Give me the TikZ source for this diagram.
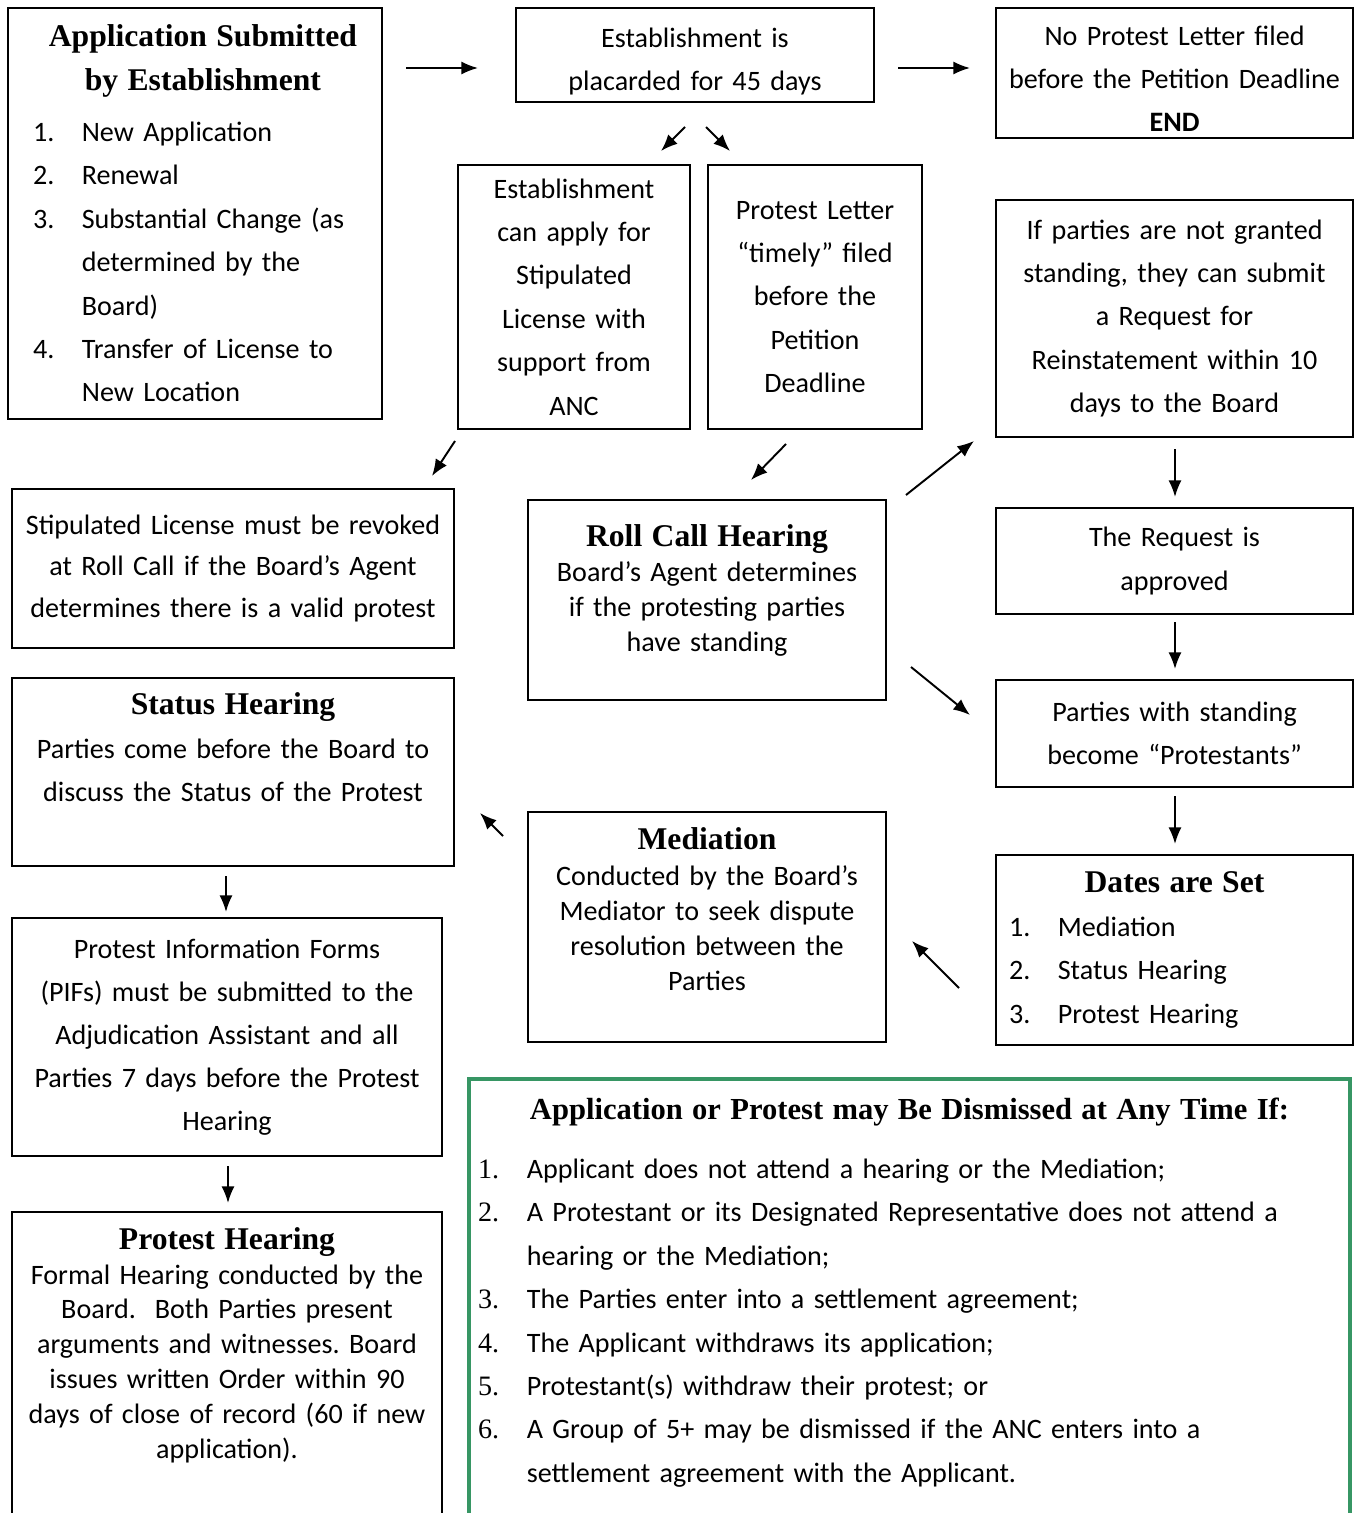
\documentclass[tikz,border=0pt]{standalone}
\usepackage{fontspec}
\setmainfont{Carlito}
\newfontfamily\serifhd{Liberation Serif}
\usetikzlibrary{arrows.meta}
\frenchspacing

\definecolor{boxgreen}{RGB}{55,150,100}
\newcommand{\hd}[1]{{\serifhd\bfseries\fontsize{18}{20}\selectfont #1}}
\newlength{\numw}
\setlength{\numw}{27.8pt}
% numbered line and its continuation, left aligned inside a centred node
\newcommand{\itm}[2]{\makebox[\hsize][l]{\makebox[\numw][l]{#1}#2}}
\newcommand{\itc}[1]{\makebox[\hsize][l]{\hspace*{\numw}#1}}

\tikzset{
  bx/.style n args={3}{draw, line width=1.6pt, inner sep=0pt, align=center,
    minimum width=#1*0.02cm, minimum height=#2*0.02cm, text width=#3*0.02cm,
    font=\fontsize{16}{24.7}\selectfont},
  tight/.style={font=\fontsize{16}{19.8}\selectfont},
  arr/.style={->, line width=1.1pt}
}

\begin{document}
\begin{tikzpicture}[x=0.02cm, y=-0.02cm, >={Latex[length=9.5pt,width=7.5pt]}]
\useasboundingbox (0,0) rectangle (1354,1513);
\clip (0,0) rectangle (1354,1513);

% first row
\node[bx={374}{411}{324}] (app) at (195,213.5) {\hd{\hspace*{9pt}Application Submitted}\\\hd{\hspace*{9pt}by Establishment}\\[4.5pt]
  \itm{1.}{New Application}\\\itm{2.}{Renewal}\\
  \itm{3.}{Substantial Change (as}\\\itc{determined by the}\\\itc{Board)}\\
  \itm{4.}{Transfer of License to}\\\itc{New Location}};
\node[bx={358}{94}{350}] (plac) at (695,55) {\rule{0pt}{18.8pt}Establishment is\\placarded for 45 days};
\node[bx={357}{130}{350}] (noprot) at (1174.5,73) {\rule{0pt}{17.7pt}No Protest Letter filed\\before the Petition Deadline\\\textbf{END}};

% second row
\node[bx={232}{264}{226}] (stipapp) at (574,297) {Establishment\\can apply for\\Stipulated\\License with\\support from\\ANC};
\node[bx={214}{264}{208}] (letter) at (815,297) {Protest Letter\\“timely” filed\\before the\\Petition\\Deadline};
\node[bx={357}{237}{350}] (reinst) at (1174.5,318.5) {If parties are not granted\\standing, they can submit\\a Request for\\Reinstatement within 10\\days to the Board};

% middle
\node[bx={442}{159}{436}, font=\fontsize{16}{23.5}\selectfont] (revoke) at (233,568.5) {Stipulated License must be revoked\\at Roll Call if the Board’s Agent\\determines there is a valid protest};
\node[bx={358}{200}{350}, tight] (rollcall) at (707,600) {\hd{Roll Call Hearing}\\Board’s Agent determines\\if the protesting parties\\have standing\\[-6pt]\mbox{}};
\node[bx={357}{106}{350}] (approved) at (1174.5,561) {The Request is\\approved};
\node[bx={357}{107}{350}] (protestants) at (1174.5,733.5) {Parties with standing\\become “Protestants”};
\node[bx={442}{188}{436}] (status) at (233,772) {\hd{Status Hearing}\\Parties come before the Board to\\discuss the Status of the Protest\\[3.7pt]\mbox{}};
\node[bx={358}{230}{350}, font=\fontsize{16}{20.1}\selectfont] (mediation) at (707,927) {\hd{Mediation}\\Conducted by the Board’s\\Mediator to seek dispute\\resolution between the\\Parties\\\mbox{}};
\node[bx={357}{190}{331}] (dates) at (1174.5,950) {\hd{Dates are Set}\\
  \itm{1.}{Mediation}\\\itm{2.}{Status Hearing}\\\itm{3.}{Protest Hearing}};

% bottom
\node[bx={430}{238}{424}, font=\fontsize{16}{24.5}\selectfont] (pifs) at (227,1037) {Protest Information Forms\\(PIFs) must be submitted to the\\Adjudication Assistant and all\\Parties 7 days before the Protest\\Hearing};
\node[bx={430}{348}{424}, tight] (hearing) at (227,1386) {\hd{Protest Hearing}\\Formal Hearing conducted by the\\Board.\ \ Both Parties present\\arguments and witnesses. Board\\issues written Order within 90\\days of close of record (60 if new\\application).\\[29.5pt]\mbox{}};
\node[bx={881}{481}{863}, draw=boxgreen, line width=2.8pt] (dismiss) at (909.5,1319.5) {{\serifhd\bfseries\fontsize{17.4}{20}\selectfont Application or Protest may Be Dismissed at Any Time If:}\\[9pt]
  \itm{\serifhd 1.}{Applicant does not attend a hearing or the Mediation;}\\
  \itm{\serifhd 2.}{A Protestant or its Designated Representative does not attend a}\\\itc{hearing or the Mediation;}\\
  \itm{\serifhd 3.}{The Parties enter into a settlement agreement;}\\
  \itm{\serifhd 4.}{The Applicant withdraws its application;}\\
  \itm{\serifhd 5.}{Protestant(s) withdraw their protest; or}\\
  \itm{\serifhd 6.}{A Group of 5+ may be dismissed if the ANC enters into a}\\\itc{settlement agreement with the Applicant.}\\[8.8pt]\mbox{}};

% arrow ends
\coordinate (app-o) at (406,68);     \coordinate (plac-i) at (478,68);
\coordinate (plac-o) at (898,68);    \coordinate (noprot-i) at (970,68);
\coordinate (plac-sl) at (685,127);  \coordinate (stipapp-i) at (661,151);
\coordinate (plac-sr) at (706,127);  \coordinate (letter-i) at (730,151);
\coordinate (stipapp-o) at (455,441); \coordinate (revoke-i) at (432,476);
\coordinate (letter-o) at (786,444); \coordinate (roll-i) at (751,480);
\coordinate (roll-ou) at (906,495);  \coordinate (reinst-i) at (974,441);
\coordinate (roll-od) at (911,667);  \coordinate (prot-il) at (970,715);
\coordinate (reinst-o) at (1175,449); \coordinate (appr-i) at (1175,497);
\coordinate (appr-o) at (1175,622);  \coordinate (prot-it) at (1175,669);
\coordinate (prot-o) at (1175,796);  \coordinate (dates-i) at (1175,844);
\coordinate (dates-o) at (959,988);  \coordinate (med-i) at (912,941);
\coordinate (med-o) at (503,836);    \coordinate (status-i) at (480,813);
\coordinate (status-o) at (226,876); \coordinate (pifs-i) at (226,912);
\coordinate (pifs-o) at (228,1166);  \coordinate (hear-i) at (228,1203);

\draw[arr] (app-o) -- (plac-i);
\draw[arr] (plac-o) -- (noprot-i);
\draw[arr] (plac-sl) -- (stipapp-i);
\draw[arr] (plac-sr) -- (letter-i);
\draw[arr] (stipapp-o) -- (revoke-i);
\draw[arr] (letter-o) -- (roll-i);
\draw[arr] (roll-ou) -- (reinst-i);
\draw[arr] (roll-od) -- (prot-il);
\draw[arr] (reinst-o) -- (appr-i);
\draw[arr] (appr-o) -- (prot-it);
\draw[arr] (prot-o) -- (dates-i);
\draw[arr] (dates-o) -- (med-i);
\draw[arr] (med-o) -- (status-i);
\draw[arr] (status-o) -- (pifs-i);
\draw[arr] (pifs-o) -- (hear-i);
\end{tikzpicture}
\end{document}
